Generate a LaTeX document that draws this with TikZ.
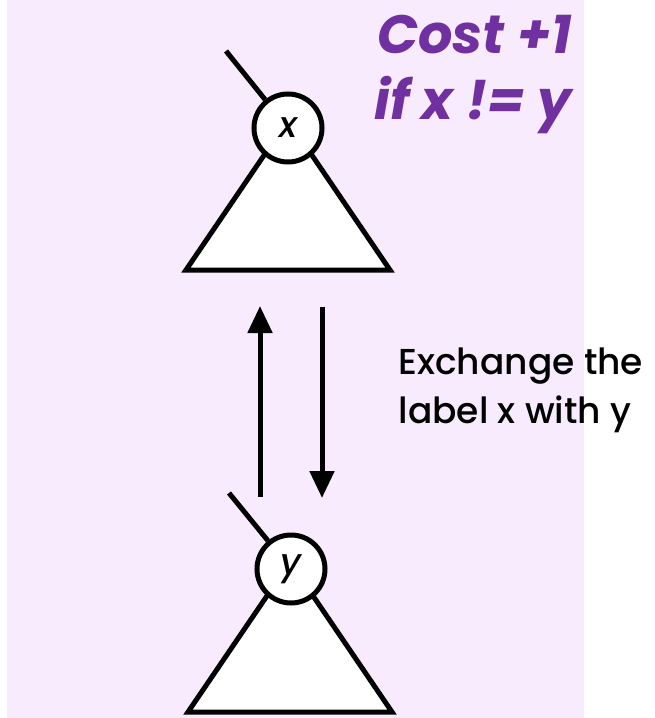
\documentclass[tikz,border=0pt]{standalone}
\usepackage{fontspec}
\setmainfont{Poppins}
\newfontfamily\medfont{Poppins Medium}
\usetikzlibrary{arrows.meta}
\definecolor{bgpink}{HTML}{F8EBFD}
\definecolor{costpurple}{HTML}{7030A0}
\begin{document}
\begin{tikzpicture}[x=1pt,y=-1pt,line width=5pt,
  treenode/.style={circle,draw=black,fill=white,minimum size=68pt,inner sep=0pt,font=\fontsize{36}{38}\selectfont\medfont\itshape},
  subtree/.style={draw=black,fill=white,line join=miter},
  swaparrow/.style={-{Triangle[length=27pt,width=24pt]}}]
\useasboundingbox (0,0) rectangle (654,718);
\fill[bgpink] (7,0) rectangle (584,718);
% top tree
\coordinate (tA) at (288,120);
\coordinate (tL) at (186,270);
\coordinate (tR) at (390,270);
\path[subtree] (tA) -- (tL) -- (tR) -- cycle;
\node[treenode] (x) at (288,128) {x};
\coordinate (xp) at (226,51);
\draw (xp) -- (x);
% bottom tree
\coordinate (bA) at (290,562);
\coordinate (bL) at (188,712);
\coordinate (bR) at (392,712);
\path[subtree] (bA) -- (bL) -- (bR) -- cycle;
\node[treenode] (y) at (291,569) {y};
\coordinate (yp) at (229,493);
\draw (yp) -- (y);
% arrows
\coordinate (u1) at (260,497);
\coordinate (u2) at (260,306);
\coordinate (d1) at (322,307);
\coordinate (d2) at (322,498);
\draw[swaparrow] (u1) -- (u2);
\draw[swaparrow] (d1) -- (d2);
% texts
\node[anchor=north east,align=right,text=costpurple,inner sep=0pt,
  font=\fontsize{54}{66}\selectfont\bfseries\itshape] (cost) at (574,13) {Cost +1\\if x != y};
\node[anchor=north west,align=left,inner sep=0pt,
  font=\fontsize{36}{49}\selectfont\medfont] (exch) at (396,345) {Exchange the\\label x with y};
\end{tikzpicture}
\end{document}
